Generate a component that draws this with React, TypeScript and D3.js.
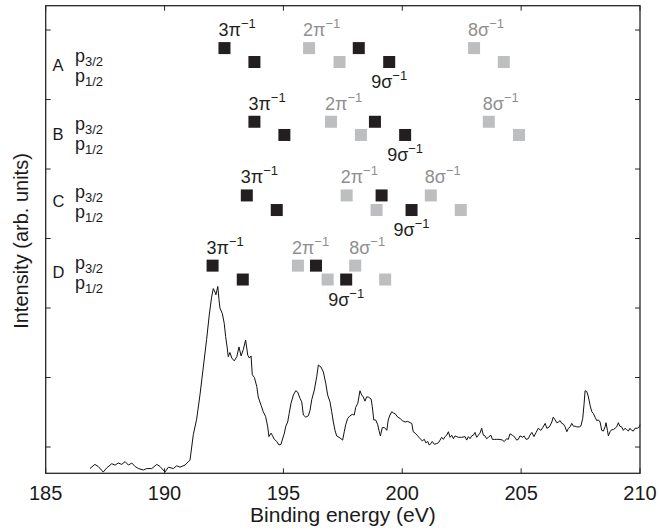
import * as d3 from 'd3';

// spectrum (binding energy in eV, intensity in tick units)
const energy = [
  186.86, 187.07, 187.21, 187.42, 187.57, 187.78, 187.92, 188.05, 188.2, 188.34, 188.48, 188.62,
  188.76, 188.9, 189.11, 189.25, 189.46, 189.67, 189.81, 190.02, 190.16, 190.37, 190.51, 190.65,
  190.86, 191.0, 191.07, 191.21, 191.35, 191.49, 191.63, 191.77, 191.88, 191.98, 192.05, 192.12,
  192.16, 192.24, 192.29, 192.33, 192.43, 192.51, 192.57, 192.63, 192.68, 192.75, 192.83, 192.93,
  193.04, 193.13, 193.22, 193.31, 193.41, 193.5, 193.57, 193.64, 193.69, 193.78, 193.88, 193.94,
  194.06, 194.15, 194.25, 194.34, 194.39, 194.48, 194.53, 194.62, 194.72, 194.81, 194.9, 194.95,
  195.04, 195.1, 195.18, 195.24, 195.32, 195.42, 195.52, 195.6, 195.7, 195.77, 195.84, 195.94,
  196.05, 196.12, 196.19, 196.3, 196.4, 196.47, 196.58, 196.68, 196.78, 196.86, 196.96, 197.03,
  197.1, 197.17, 197.24, 197.34, 197.42, 197.49, 197.56, 197.62, 197.7, 197.8, 197.9, 197.98,
  198.04, 198.13, 198.22, 198.29, 198.36, 198.43, 198.5, 198.57, 198.69, 198.74, 198.8, 198.88,
  198.97, 199.02, 199.08, 199.16, 199.25, 199.35, 199.41, 199.48, 199.56, 199.62, 199.7, 199.81,
  199.91, 200.0, 200.12, 200.23, 200.33, 200.4, 200.46, 200.54, 200.65, 200.75, 200.84, 200.93,
  200.99, 201.07, 201.13, 201.21, 201.26, 201.35, 201.45, 201.52, 201.59, 201.66, 201.73, 201.8,
  201.87, 201.94, 202.01, 202.08, 202.15, 202.22, 202.29, 202.36, 202.5, 202.64, 202.71, 202.78,
  202.85, 202.92, 202.99, 203.06, 203.13, 203.2, 203.27, 203.34, 203.41, 203.48, 203.55, 203.62,
  203.73, 203.79, 203.87, 203.97, 204.11, 204.21, 204.29, 204.39, 204.46, 204.53, 204.63, 204.74,
  204.81, 204.88, 204.95, 205.07, 205.12, 205.21, 205.3, 205.37, 205.45, 205.54, 205.63, 205.72,
  205.83, 205.91, 206.01, 206.08, 206.19, 206.29, 206.35, 206.43, 206.5, 206.57, 206.64, 206.71,
  206.78, 206.85, 206.92, 206.99, 207.06, 207.13, 207.2, 207.27, 207.34, 207.45, 207.51, 207.59,
  207.65, 207.69, 207.76, 207.83, 207.9, 207.97, 208.04, 208.11, 208.18, 208.25, 208.32, 208.39,
  208.46, 208.53, 208.57, 208.63, 208.67, 208.74, 208.81, 208.88, 208.95, 209.02, 209.09, 209.15,
  209.23, 209.3, 209.37, 209.44, 209.51, 209.58, 209.65, 209.72, 209.79, 209.89, 209.97, 210.0,
];
const intensity = [
  -0.31, -0.25, -0.28, -0.36, -0.3, -0.24, -0.26, -0.23, -0.25, -0.21, -0.26, -0.23,
  -0.28, -0.31, -0.33, -0.31, -0.31, -0.25, -0.28, -0.36, -0.29, -0.31, -0.27, -0.29,
  -0.26, -0.21, -0.19, 0.18, 0.4, 0.75, 1.15, 1.55, 1.9, 2.16, 2.28, 2.23,
  2.19, 2.31, 2.12, 2.0, 1.92, 1.78, 1.59, 1.44, 1.3, 1.36, 1.28, 1.24,
  1.3, 1.44, 1.31, 1.4, 1.54, 1.32, 1.28, 1.31, 1.04, 1.0, 0.87, 0.72,
  0.6, 0.51, 0.44, 0.29, 0.15, 0.2, 0.17, 0.11, 0.08, 0.03, 0.04, 0.1,
  0.2, 0.3, 0.36, 0.48, 0.63, 0.75, 0.81, 0.79, 0.7, 0.65, 0.46, 0.43,
  0.45, 0.53, 0.68, 0.82, 1.01, 1.18, 1.15, 1.08, 0.92, 0.75, 0.65, 0.51,
  0.36, 0.24, 0.16, 0.14, 0.12, 0.1, 0.22, 0.32, 0.41, 0.45, 0.47, 0.46,
  0.57, 0.63, 0.81, 0.75, 0.72, 0.66, 0.72, 0.72, 0.69, 0.58, 0.39, 0.39,
  0.32, 0.24, 0.16, 0.28, 0.28, 0.24, 0.39, 0.46, 0.51, 0.49, 0.48, 0.43,
  0.41, 0.38, 0.36, 0.37, 0.35, 0.34, 0.22, 0.2, 0.16, 0.12, 0.09, 0.11,
  0.06, 0.08, 0.03, 0.05, 0.08, 0.04, 0.05, 0.06, 0.1, 0.14, 0.11, 0.15,
  0.17, 0.22, 0.14, 0.17, 0.12, 0.16, 0.15, 0.14, 0.14, 0.15, 0.1, 0.15,
  0.12, 0.16, 0.17, 0.21, 0.14, 0.17, 0.2, 0.27, 0.17, 0.16, 0.12, 0.14,
  0.17, 0.11, 0.11, 0.11, 0.11, 0.1, 0.08, 0.12, 0.11, 0.19, 0.17, 0.14,
  0.1, 0.11, 0.16, 0.14, 0.16, 0.11, 0.12, 0.17, 0.21, 0.15, 0.21, 0.27,
  0.24, 0.28, 0.34, 0.27, 0.29, 0.36, 0.43, 0.39, 0.35, 0.36, 0.38, 0.34,
  0.33, 0.29, 0.22, 0.27, 0.29, 0.34, 0.3, 0.3, 0.29, 0.29, 0.3, 0.41,
  0.63, 0.81, 0.8, 0.72, 0.6, 0.51, 0.48, 0.43, 0.38, 0.39, 0.36, 0.24,
  0.23, 0.29, 0.35, 0.24, 0.16, 0.22, 0.25, 0.25, 0.27, 0.29, 0.35, 0.3,
  0.29, 0.24, 0.27, 0.25, 0.23, 0.27, 0.24, 0.23, 0.27, 0.27, 0.29, 0.32,
];

// ionisation thresholds per scheme A-D (eV)
const rows = ['A', 'B', 'C', 'D'];
const pi3p32 = [192.52, 193.78, 193.46, 192.02];
const pi3p12 = [193.78, 195.04, 194.72, 193.29];
const pi2p32 = [196.08, 197.0, 197.66, 195.61];
const pi2p12 = [197.36, 198.26, 198.92, 196.86];
const sig9p32 = [198.17, 198.85, 199.13, 196.37];
const sig9p12 = [199.45, 200.12, 200.39, 197.64];
const sig8p32 = [203.02, 203.64, 201.2, 198.02];
const sig8p12 = [204.27, 204.91, 202.46, 199.28];

// vertical levels of the marker rows and row labels (intensity units)
const levelP32 = [5.74, 4.68, 3.62, 2.61];
const levelP12 = [5.54, 4.49, 3.41, 2.41];
const labelLevel = [5.41, 4.42, 3.45, 2.43];

const xTicks = [185, 190, 195, 200, 205, 210];
const yTicks = [0, 1, 2, 3, 4, 5, 6];

const FONT = '"Liberation Sans", Arial, Helvetica, sans-serif';
const BLACK = '#231f20';
const GRAY = '#bdbec0';
const GRAY_TEXT = '#8f8f8f';

const orbitals = [
  { name: '3π', p32: pi3p32, p12: pi3p12, dark: true, below: false },
  { name: '2π', p32: pi2p32, p12: pi2p12, dark: false, below: false },
  { name: '9σ', p32: sig9p32, p12: sig9p12, dark: true, below: true },
  { name: '8σ', p32: sig8p32, p12: sig8p12, dark: false, below: false },
];

export default function App() {
  const W = 659;
  const H = 532;
  const left = 45.7, right = 640, top = 5.7, bottom = 473.3;

  const x = d3.scaleLinear().domain([185, 210]).range([left, right]);
  const y = d3.scaleLinear().domain([-0.378, 6.35]).range([bottom, top]);

  const pts: [number, number][] = energy.map((e, i) => [e, intensity[i]]);
  const line = d3.line<[number, number]>().x(d => x(d[0])).y(d => y(d[1]));

  const sq = 12;
  const tick = 5;

  return (
    <svg width={W} height={H} style={{ position: 'absolute', left: 0, top: 0, background: '#fff' }}
      fontFamily={FONT}>
      {/* spectrum */}
      <path d={line(pts) || ''} fill="none" stroke="#111" strokeWidth={1} strokeLinejoin="round" />

      {/* frame and ticks */}
      <rect x={left} y={top} width={right - left} height={bottom - top} fill="none" stroke="#262626" strokeWidth={1.3} />
      {xTicks.map(t => (
        <g key={'x' + t}>
          <line x1={x(t)} x2={x(t)} y1={bottom} y2={bottom - tick} stroke="#262626" />
          <line x1={x(t)} x2={x(t)} y1={top} y2={top + tick} stroke="#262626" />
          <text x={x(t)} y={500} textAnchor="middle" fontSize={20} fill="#1a1a1a">{t}</text>
        </g>
      ))}
      {yTicks.map(t => (
        <g key={'y' + t}>
          <line x1={left} x2={left + tick} y1={y(t)} y2={y(t)} stroke="#262626" />
          <line x1={right} x2={right - tick} y1={y(t)} y2={y(t)} stroke="#262626" />
        </g>
      ))}

      <text x={(left + right) / 2} y={522} textAnchor="middle" fontSize={21} fill="#1a1a1a">Binding energy (eV)</text>
      <text transform={`translate(28.3,${(top + bottom) / 2 + 1.5}) rotate(-90)`} textAnchor="middle" fontSize={20} fill="#1a1a1a">
        Intensity (arb. units)
      </text>

      {/* row labels */}
      {rows.map((r, i) => {
        const yb = y(labelLevel[i]);
        return (
          <g key={r} fill="#1a1a1a">
            <text x={52.5} y={yb} fontSize={16.5}>{r}</text>
            <text x={75} y={yb - 9.5} fontSize={18}>
              p<tspan fontSize={13} dy={4}>3/2</tspan>
            </text>
            <text x={75} y={yb + 10.5} fontSize={18}>
              p<tspan fontSize={13} dy={4}>1/2</tspan>
            </text>
          </g>
        );
      })}

      {/* thresholds */}
      {orbitals.map(o => rows.map((r, i) => {
        const fill = o.dark ? BLACK : GRAY;
        const tfill = o.dark ? BLACK : GRAY_TEXT;
        const x32 = x(o.p32[i]), y32 = y(levelP32[i]);
        const x12 = x(o.p12[i]), y12 = y(levelP12[i]);
        const lx = o.below ? x12 : x32 - sq / 2;
        const ly = o.below ? y12 + 26 : y32 - sq / 2 - 6;
        return (
          <g key={o.name + r}>
            <rect x={x32 - sq / 2} y={y32 - sq / 2} width={sq} height={sq} fill={fill} />
            <rect x={x12 - sq / 2} y={y12 - sq / 2} width={sq} height={sq} fill={fill} />
            <text x={lx} y={ly} textAnchor={o.below ? 'middle' : 'start'} fontSize={18} fill={tfill}>
              {o.name}<tspan fontSize={13} dy={-8}>−1</tspan>
            </text>
          </g>
        );
      }))}
    </svg>
  );
}
